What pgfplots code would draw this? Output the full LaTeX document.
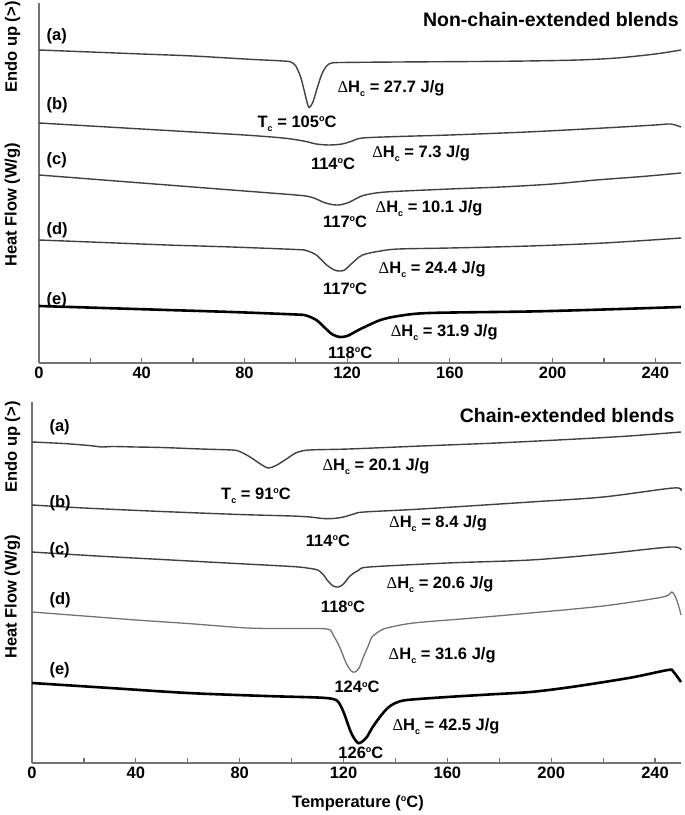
\documentclass[border=0pt]{standalone}
\usepackage{fontspec}
\setmainfont{Liberation Sans}
\newfontfamily\serifsym{Liberation Serif}
\usepackage{pgfplots}
\pgfplotsset{compat=1.18}

\newcommand{\lbl}{\fontsize{16.5}{18}\selectfont\bfseries}
\newcommand{\ttl}{\fontsize{19.5}{22}\selectfont\bfseries}
\newcommand{\sub}[1]{\raisebox{-4pt}{\fontsize{9}{9}\selectfont #1}}
\newcommand{\dg}{\raisebox{6pt}{\fontsize{9}{9}\selectfont o}}
\newcommand{\dH}{{\serifsym\mdseries Δ}H\sub{c}}

\pgfplotsset{
  dsc/.style={
    scale only axis, xmin=0, xmax=250, ymin=0,
    axis x line=bottom, axis y line=left,
    axis line style={-, black!55, line width=1.5pt},
    xtick={0,40,...,240}, minor xtick={20,60,...,220}, ytick=\empty,
    tick align=inside, major tick length=5pt, minor tick length=5pt,
    tick style={black!55, line width=1.2pt},
    xticklabel style={font=\lbl},
    /pgf/number format/assume math mode=true,
    clip=false, anchor=south west,
  },
  cthin/.style={black!75, line width=1.4pt, smooth, tension=0.5},
  cgray/.style={black!55, line width=1.3pt, smooth, tension=0.5},
  cthick/.style={black, line width=2.6pt, smooth, tension=0.5},
}

\begin{document}
\begin{tikzpicture}
\useasboundingbox (0,0) rectangle (685pt,815pt);

% ---- non-chain-extended blends ----
\begin{axis}[dsc, at={(39pt,452pt)}, width=642pt, height=360pt, ymax=360]
% (a)
\addplot[cthin] coordinates {(0,313)(20,311)(40,309)(60,307)(80,304)(95,302)(98,301)(100,297)(102,285)(103.5,270)(105,256)(106.5,260)(108,272)(110,288)(112,297)(114,300)(118,300.5)(140,301)(170,301.5)(190,302)(210,303)(225,305)(240,309)(250,313)};
% (b)
\addplot[cthin] coordinates {(0,240)(20,237)(40,234)(60,231)(80,228)(95,225)(103,222)(108,219)(113,218)(118,219)(122,222)(126,225)(140,226.5)(160,228)(190,231)(220,235)(240,238)(246,239)(250,236)};
% (c)
\addplot[cthin] coordinates {(0,188)(25,183)(50,178)(75,173)(100,168)(105,166.5)(108,164)(111,160.5)(114,158.5)(116,158)(118,158.5)(121,161)(124,165)(127,168)(135,171)(160,174)(180,176)(200,179)(217,183)(235,186.5)(250,190)};
% (d)
\addplot[cthin] coordinates {(0,123)(25,120.5)(50,118)(75,116)(100,113.5)(104,112.5)(108,108)(112,98)(115,93)(117,92)(119,93)(122,100)(126,108)(133,112)(140,114)(160,115)(191,117)(220,120)(250,125)};
% (e)
\addplot[cthick] coordinates {(0,57)(25,55)(50,53)(75,51)(100,48.5)(104,47.5)(108,43)(111,36)(114,29)(117,26)(120,27)(123,31)(126,35)(133,43)(140,47)(152,50)(191,51.5)(220,53.5)(250,56)};

\node[anchor=west, font=\lbl] at (axis cs:1.6,327) {(a)};
\node[anchor=west, font=\lbl] at (axis cs:1.6,258) {(b)};
\node[anchor=west, font=\lbl] at (axis cs:1.6,203) {(c)};
\node[anchor=west, font=\lbl] at (axis cs:1.6,133) {(d)};
\node[anchor=west, font=\lbl] at (axis cs:1.6,63) {(e)};
\node[anchor=east, font=\ttl] at (axis cs:250.5,343) {Non-chain-extended blends};

\node[anchor=base, font=\lbl] at (axis cs:100.5,235) {T\sub{c} = 105\dg C};
\node[anchor=base, font=\lbl] at (axis cs:137.1,270) {\dH{} = 27.7 J/g};
\node[anchor=base, font=\lbl] at (axis cs:114.5,193) {114\dg C};
\node[anchor=base, font=\lbl] at (axis cs:148.8,205) {\dH{} = 7.3 J/g};
\node[anchor=base, font=\lbl] at (axis cs:119.2,135) {117\dg C};
\node[anchor=base, font=\lbl] at (axis cs:151.9,150) {\dH{} = 10.1 J/g};
\node[anchor=base, font=\lbl] at (axis cs:119.2,68) {117\dg C};
\node[anchor=base, font=\lbl] at (axis cs:153.1,89) {\dH{} = 24.4 J/g};
\node[anchor=base, font=\lbl] at (axis cs:121.2,4) {118\dg C};
\node[anchor=base, font=\lbl] at (axis cs:157.8,26) {\dH{} = 31.9 J/g};
\end{axis}

% ---- chain-extended blends ----
\begin{axis}[dsc, at={(32pt,52pt)}, width=649pt, height=361pt, ymax=361]
% (a)
\addplot[cthin] coordinates {(0,321)(12,319.5)(22,317.5)(27,316)(31,316.5)(40,316)(50,315.5)(65,314)(77,313)(80,311.5)(84,306)(88,299)(91,295)(94,297.5)(98,304)(102,310.5)(107,313)(122,314)(150,317)(179,320)(210,324)(230,327)(250,331)};
% (b)
\addplot[cthin] coordinates {(0,258)(20,255)(50,251.5)(80,248.5)(100,247)(107,246)(112,244.5)(116,244.5)(120,246)(124,249)(128,251)(150,254)(192,261)(220,266)(247,275)(250,272)};
% (c)
\addplot[cthin] coordinates {(0,211)(25,207)(50,203.5)(75,200)(100,196.5)(106,195)(110,193)(112,189)(114,182)(116,177)(118,176)(120,179)(122.5,187)(126,193)(130,196)(160,200)(192,203)(220,209)(246,216)(250,213)};
% (d)
\addplot[cgray] coordinates {(0,151)(20,147)(40,143)(60,139.5)(83,135)(100,134.5)(113.6,134)(116,128)(118.5,116)(121,100)(123,92)(124.4,91)(126,95)(127.5,105)(129.5,117)(131,126)(134,132)(136.7,135)(147,140)(170,145)(192,150)(220,157)(243,166)(246.5,171)(248.5,162)(250,148)};
% (e)
\addplot[cthick] coordinates {(0,80)(30,75)(60,70)(90,67)(110,65.5)(116,64)(118,61)(120,51)(122.5,33)(124,25)(125.6,20)(127,21)(129,26)(131,35)(134,46)(137,55)(140,60)(144.5,63)(160,66)(176,68.5)(192,71)(205,75)(218,80)(232,86)(245,93)(247,91.5)(250,81)};

\node[anchor=west, font=\lbl] at (axis cs:5.4,336) {(a)};
\node[anchor=west, font=\lbl] at (axis cs:5.4,260) {(b)};
\node[anchor=west, font=\lbl] at (axis cs:5.4,213) {(c)};
\node[anchor=west, font=\lbl] at (axis cs:5.4,163) {(d)};
\node[anchor=west, font=\lbl] at (axis cs:5.4,93) {(e)};
\node[anchor=east, font=\ttl] at (axis cs:248.8,347) {Chain-extended blends};

\node[anchor=base, font=\lbl] at (axis cs:86.3,263) {T\sub{c} = 91\dg C};
\node[anchor=base, font=\lbl] at (axis cs:132.5,292) {\dH{} = 20.1 J/g};
\node[anchor=base, font=\lbl] at (axis cs:114,216) {114\dg C};
\node[anchor=base, font=\lbl] at (axis cs:156.4,235) {\dH{} = 8.4 J/g};
\node[anchor=base, font=\lbl] at (axis cs:119.8,150) {118\dg C};
\node[anchor=base, font=\lbl] at (axis cs:157.2,174) {\dH{} = 20.6 J/g};
\node[anchor=base, font=\lbl] at (axis cs:125.2,70) {124\dg C};
\node[anchor=base, font=\lbl] at (axis cs:158,103) {\dH{} = 31.6 J/g};
\node[anchor=base, font=\lbl] at (axis cs:126.7,5) {126\dg C};
\node[anchor=base, font=\lbl] at (axis cs:159.5,32) {\dH{} = 42.5 J/g};
\end{axis}

\node[rotate=90, font=\lbl] at (12.5pt,768pt) {Endo up (>)};
\node[rotate=90, font=\lbl] at (12.5pt,610pt) {Heat Flow (W/g)};
\node[rotate=90, font=\lbl] at (12.5pt,368pt) {Endo up (>)};
\node[rotate=90, font=\lbl] at (12.5pt,218pt) {Heat Flow (W/g)};
\node[font=\lbl] at (358pt,12pt) {Temperature (\dg C)};
\end{tikzpicture}
\end{document}
